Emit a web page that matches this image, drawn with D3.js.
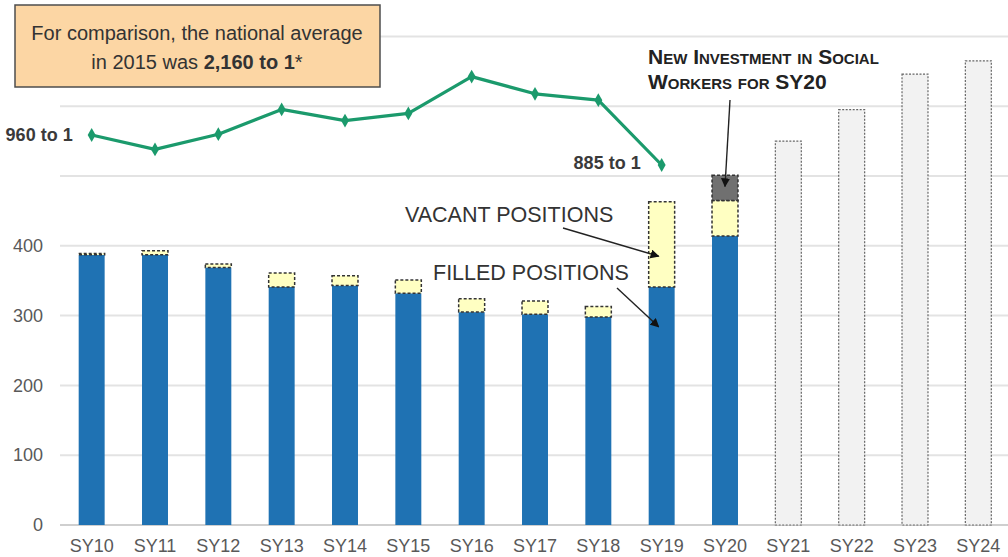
<!DOCTYPE html>
<html>
<head>
<meta charset="utf-8">
<script src="https://cdn.jsdelivr.net/npm/d3@7"></script>
<style>
  body { margin: 0; background: #fff; }
  svg { display: block; font-family: "Liberation Sans", Arial, sans-serif; }
</style>
</head>
<body>
<svg width="1008" height="557"></svg>
<script>
// school years on the x axis
const years = ["SY10", "SY11", "SY12", "SY13", "SY14", "SY15", "SY16", "SY17", "SY18", "SY19", "SY20", "SY21", "SY22", "SY23", "SY24"];
// social worker positions
const filled = [387, 387, 369, 341, 343, 332, 305, 302, 298, 341, 414];
const vacant = [2, 6, 5, 20, 14, 19, 19, 19, 15, 122, 51];
const newInvestment = [0, 0, 0, 0, 0, 0, 0, 0, 0, 0, 36];
// projected totals for later years
const projectedYears = ["SY21", "SY22", "SY23", "SY24"];
const projected = [550, 595, 646, 665];
// students per social worker
const ratioYears = ["SY10", "SY11", "SY12", "SY13", "SY14", "SY15", "SY16", "SY17", "SY18", "SY19"];
const ratio = [960, 924, 962, 1024, 996, 1014, 1106, 1063, 1047, 885];
const yTicks = [0, 100, 200, 300, 400];
const gridValues = [0, 100, 200, 300, 400, 500, 600, 700];

const svg = d3.select("svg");
const width = +svg.attr("width");

const x = d3.scaleBand()
    .domain(years)
    .range([60, 1010])
    .paddingInner(0.59)
    .paddingOuter(0.295);
const y = d3.scaleLinear().domain([0, 700]).range([525, 36.4]);
// the ratio line sits on its own scale
const yr = d3.scaleLinear().domain([885, 960]).range([165, 135]);
const cx = d => x(d) + x.bandwidth() / 2;

// gridlines
svg.append("g").selectAll("line")
    .data(gridValues)
    .enter().append("line")
    .attr("x1", 60).attr("x2", width)
    .attr("y1", d => y(d)).attr("y2", d => y(d))
    .attr("stroke", d => d === 0 ? "#cfcfcf" : "#e3e3e3")
    .attr("stroke-width", 2);

// y axis labels
svg.append("g")
    .attr("transform", "translate(43,0)")
    .call(d3.axisLeft(y).tickValues(yTicks).tickSize(0).tickPadding(0))
    .call(g => g.select(".domain").remove())
    .selectAll("text")
    .attr("font-size", 18)
    .attr("font-family", "Liberation Sans, Arial, sans-serif")
    .attr("fill", "#595959");

// x axis labels
svg.append("g")
    .attr("transform", "translate(0,539)")
    .call(d3.axisBottom(x).tickSize(0).tickPadding(0))
    .call(g => g.select(".domain").remove())
    .selectAll("text")
    .attr("font-size", 18)
    .attr("font-family", "Liberation Sans, Arial, sans-serif")
    .attr("fill", "#595959");

const actualYears = years.slice(0, filled.length);

// filled positions
svg.append("g").selectAll("rect")
    .data(actualYears)
    .enter().append("rect")
    .attr("x", d => x(d))
    .attr("width", x.bandwidth())
    .attr("y", (d, i) => y(filled[i]))
    .attr("height", (d, i) => y(0) - y(filled[i]))
    .attr("fill", "#1f72b3");

// vacant positions
svg.append("g").selectAll("rect")
    .data(actualYears)
    .enter().append("rect")
    .attr("x", d => x(d))
    .attr("width", x.bandwidth())
    .attr("y", (d, i) => y(filled[i] + vacant[i]))
    .attr("height", (d, i) => y(filled[i]) - y(filled[i] + vacant[i]))
    .attr("fill", "#ffffc2")
    .attr("stroke", "#333")
    .attr("stroke-width", 1.5)
    .attr("stroke-dasharray", "3,2");

// new investment
svg.append("g").selectAll("rect")
    .data(actualYears.filter((d, i) => newInvestment[i] > 0))
    .enter().append("rect")
    .attr("x", d => x(d))
    .attr("width", x.bandwidth())
    .attr("y", d => { const i = years.indexOf(d); return y(filled[i] + vacant[i] + newInvestment[i]); })
    .attr("height", d => { const i = years.indexOf(d); return y(filled[i] + vacant[i]) - y(filled[i] + vacant[i] + newInvestment[i]); })
    .attr("fill", "#707070")
    .attr("stroke", "#333")
    .attr("stroke-width", 1.5)
    .attr("stroke-dasharray", "3,2");

// projected bars
svg.append("g").selectAll("rect")
    .data(projectedYears)
    .enter().append("rect")
    .attr("x", d => x(d))
    .attr("width", x.bandwidth())
    .attr("y", (d, i) => y(projected[i]))
    .attr("height", (d, i) => y(0) - y(projected[i]))
    .attr("fill", "#f2f2f2")
    .attr("stroke", "#666")
    .attr("stroke-width", 1.2)
    .attr("stroke-dasharray", "2,1.5");

// ratio line
const line = d3.line()
    .x(d => cx(d.year))
    .y(d => yr(d.value));
const ratioData = ratioYears.map((d, i) => ({ year: d, value: ratio[i] }));
svg.append("path")
    .datum(ratioData)
    .attr("d", line)
    .attr("fill", "none")
    .attr("stroke", "#1b9a6c")
    .attr("stroke-width", 3.2)
    .attr("stroke-linejoin", "round");
svg.append("g").selectAll("path")
    .data(ratioData)
    .enter().append("path")
    .attr("d", d3.symbol().type(d3.symbolDiamond).size(55))
    .attr("transform", d => `translate(${cx(d.year)},${yr(d.value)})`)
    .attr("fill", "#1b9a6c");

// end labels for the line
svg.append("text")
    .attr("x", cx(ratioYears[0]) - 19)
    .attr("y", yr(ratio[0]) + 6)
    .attr("text-anchor", "end")
    .attr("font-size", 18)
    .attr("font-weight", "bold")
    .attr("fill", "#3a3a3a")
    .text(ratio[0] + " to 1");
svg.append("text")
    .attr("x", cx(ratioYears[ratio.length - 1]) - 21)
    .attr("y", yr(ratio[ratio.length - 1]) + 4)
    .attr("text-anchor", "end")
    .attr("font-size", 18)
    .attr("font-weight", "bold")
    .attr("fill", "#3a3a3a")
    .text(ratio[ratio.length - 1] + " to 1");

// comparison box
svg.append("rect")
    .attr("x", 15).attr("y", 5)
    .attr("width", 365).attr("height", 82)
    .attr("fill", "#fcd6a4")
    .attr("stroke", "#4d4d4d")
    .attr("stroke-width", 1.5);
const boxText = svg.append("text")
    .attr("text-anchor", "middle")
    .attr("font-size", 20)
    .attr("fill", "#333");
boxText.append("tspan").attr("x", 197).attr("y", 40)
    .text("For comparison, the national average");
const second = boxText.append("tspan").attr("x", 197).attr("y", 69);
second.append("tspan").text("in 2015 was ");
second.append("tspan").attr("font-weight", "bold").text("2,160 to 1");
second.append("tspan").text("*");

// arrow marker
svg.append("defs").append("marker")
    .attr("id", "arrow")
    .attr("viewBox", "0 0 10 10")
    .attr("refX", 9).attr("refY", 5)
    .attr("markerWidth", 9).attr("markerHeight", 9)
    .attr("markerUnits", "userSpaceOnUse")
    .attr("orient", "auto")
    .append("path")
    .attr("d", "M0,0L10,5L0,10z")
    .attr("fill", "#111");

function arrow(x1, y1, x2, y2) {
    svg.append("line")
        .attr("x1", x1).attr("y1", y1)
        .attr("x2", x2).attr("y2", y2)
        .attr("stroke", "#222")
        .attr("stroke-width", 1.4)
        .attr("marker-end", "url(#arrow)");
}

// new investment annotation
const ann = svg.append("text")
    .attr("font-size", 21)
    .attr("font-weight", "bold")
    .attr("font-variant", "small-caps")
    .attr("fill", "#222");
ann.append("tspan").attr("x", 648).attr("y", 64).text("New Investment in Social");
ann.append("tspan").attr("x", 648).attr("y", 89).text("Workers for SY20");
arrow(730, 100, cx("SY20"), y(485));

// vacant / filled annotations
svg.append("text")
    .attr("x", 405).attr("y", 222)
    .attr("font-size", 21.5)
    .attr("fill", "#333")
    .text("VACANT POSITIONS");
arrow(563, 228, cx("SY19") - 3, y(385));
svg.append("text")
    .attr("x", 433).attr("y", 280)
    .attr("font-size", 21.5)
    .attr("fill", "#333")
    .text("FILLED POSITIONS");
arrow(617, 288, cx("SY19") - 3, y(284));
</script>
</body>
</html>
